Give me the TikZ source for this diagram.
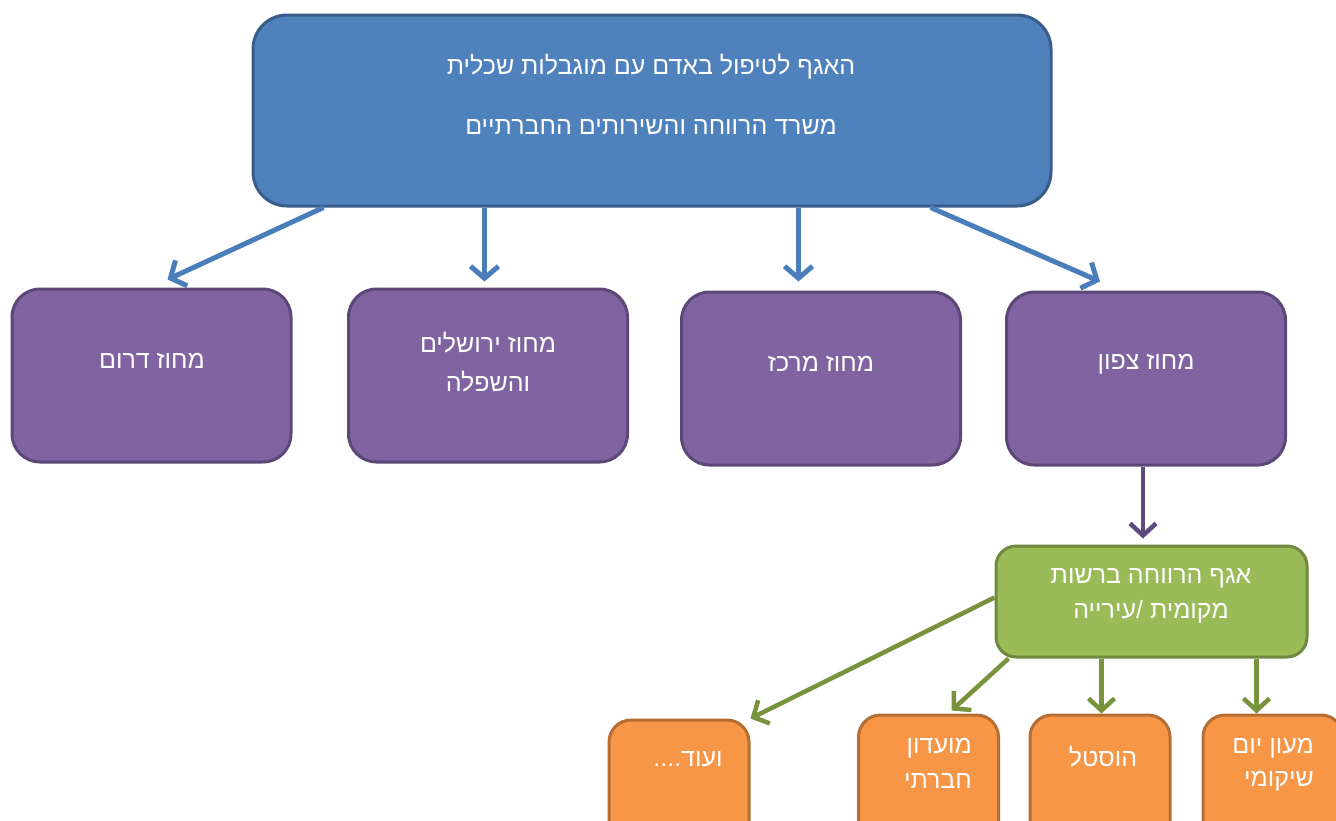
\documentclass[tikz,border=0pt]{standalone}
\usepackage{fontspec}
\setmainfont[Script=Hebrew]{Liberation Sans}
\TeXXeTstate=1
\usetikzlibrary{arrows.meta,calc}
\newcommand{\heb}[1]{\beginR #1\endR}
\definecolor{topfill}{HTML}{4F81BD}
\definecolor{topdraw}{HTML}{385D8A}
\definecolor{purfill}{HTML}{8064A2}
\definecolor{purdraw}{HTML}{5C4776}
\definecolor{grnfill}{HTML}{9BBB59}
\definecolor{grndraw}{HTML}{71893F}
\definecolor{orgfill}{HTML}{F79646}
\definecolor{orgdraw}{HTML}{B66D31}
\definecolor{bluearr}{HTML}{4A7EBB}
\definecolor{purarr}{HTML}{5F4A7D}
\definecolor{grnarr}{HTML}{77933C}
\tikzset{
  box/.style={rectangle, line width=3pt, inner sep=0pt},
  topbox/.style={box, fill=topfill, draw=topdraw, rounded corners=34pt, minimum width=798pt, minimum height=191pt},
  purbox/.style={box, fill=purfill, draw=purdraw, rounded corners=28pt, minimum width=279pt, minimum height=173pt},
  grnbox/.style={box, fill=grnfill, draw=grndraw, rounded corners=20pt, minimum width=311pt, minimum height=111pt},
  orgbox/.style={box, fill=orgfill, draw=orgdraw, rounded corners=22pt, minimum width=140pt, minimum height=130pt},
  txt/.style={text=white, font=\fontsize{25}{30}\selectfont, inner sep=0pt},
  barrow/.style={draw=bluearr, line width=5pt, -{Straight Barb[length=12pt,width=28pt]}},
  parrow/.style={draw=purarr, line width=4.5pt, -{Straight Barb[length=12pt,width=26pt]}},
  garrow/.style={draw=grnarr, line width=4.5pt, -{Straight Barb[length=12pt,width=26pt]}},
}
\begin{document}
\begin{tikzpicture}[x=1pt,y=-1pt]
\useasboundingbox (0,0) rectangle (1336,820);
\clip (0,0) rectangle (1336,820);
% boxes
\node[topbox] (top) at (652,110.5) {};
\node[purbox] (south) at (151.5,375.5) {};
\node[purbox] (jer) at (488,375.5) {};
\node[purbox] (center) at (821,378.5) {};
\node[purbox] (north) at (1146,378.5) {};
\node[grnbox] (welfare) at (1151.5,601.5) {};
\node[orgbox] (more) at (679,785) {};
\node[orgbox] (club) at (928.5,780) {};
\node[orgbox] (hostel) at (1100,780) {};
\node[orgbox] (day) at (1273,780) {};
% texts
\node[txt] (toptext1) at (651,67) {\heb{האגף לטיפול באדם עם מוגבלות שכלית}};
\node[txt] (toptext2) at (651,127) {\heb{משרד הרווחה והשירותים החברתיים}};
\node[txt] (southtext) at (152,361) {\heb{מחוז דרום}};
\node[txt] (jertext1) at (488,343) {\heb{מחוז ירושלים}};
\node[txt] (jertext2) at (488,382) {\heb{והשפלה}};
\node[txt] (centertext) at (821,364) {\heb{מחוז מרכז}};
\node[txt] (northtext) at (1146,364) {\heb{מחוז צפון}};
\node[txt] (welfaretext1) at (1151,578) {\heb{אגף הרווחה ברשות}};
\node[txt] (welfaretext2) at (1151,612) {\heb{מקומית /עירייה}};
\node[txt] (moretext) at (688,759) {\heb{ועוד....}};
\node[txt, anchor=east] (clubtext1) at (972,748) {\heb{מועדון}};
\node[txt, anchor=east] (clubtext2) at (972,781) {\heb{חברתי}};
\node[txt] (hosteltext) at (1103,757) {\heb{הוסטל}};
\node[txt, anchor=east] (daytext1) at (1314,748) {\heb{מעון יום}};
\node[txt, anchor=east] (daytext2) at (1314,781) {\heb{שיקומי}};
% connectors
\coordinate (t1) at ($(top.south west)+(72,0)$);
\coordinate (t2) at ($(top.south west)+(233,0)$);
\coordinate (t3) at ($(top.south west)+(547,0)$);
\coordinate (t4) at ($(top.south west)+(679,0)$);
\draw[barrow] (t1) -- ($(south.north)+(16,-8)$);
\draw[barrow] (t2) -- (t2 |- {$(jer.north)+(0,-6)$});
\draw[barrow] (t3) -- (t3 |- {$(center.north)+(0,-9)$});
\draw[barrow] (t4) -- ($(north.north west)+(95,-9)$);
\draw[parrow] ($(north.south)+(-3,0)$) -- ($(welfare.north)+(-8.5,-6)$);
\draw[garrow] ($(welfare.west)+(0,-4)$) -- (more.north east);
\draw[garrow] ($(welfare.south west)+(14,0)$) -- ($(club.north)+(23,-3)$);
\draw[garrow] ($(welfare.south west)+(107,0)$) -- ($(welfare.south west)+(107,55)$);
\draw[garrow] ($(welfare.south west)+(262,0)$) -- ($(welfare.south west)+(262,55)$);
\end{tikzpicture}
\end{document}
